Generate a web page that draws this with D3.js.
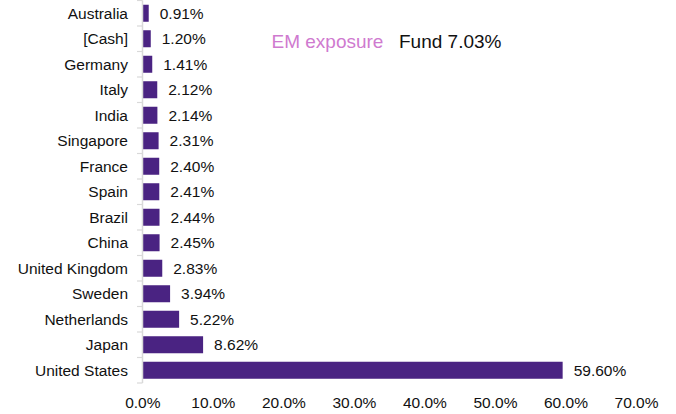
<!DOCTYPE html>
<html><head><meta charset="utf-8">
<script src="https://cdn.jsdelivr.net/npm/d3@7"></script>
<style>html,body{margin:0;padding:0;background:#fff;}svg{display:block;}</style>
</head><body>
<svg id="chart" width="676" height="414"></svg>
<script>
const countries = ["Australia","[Cash]","Germany","Italy","India","Singapore","France","Spain","Brazil","China","United Kingdom","Sweden","Netherlands","Japan","United States"];
const weights = [0.91,1.20,1.41,2.12,2.14,2.31,2.40,2.41,2.44,2.45,2.83,3.94,5.22,8.62,59.60];
const xTicks = [0,10,20,30,40,50,60,70];
const emLabel = "EM exposure";
const fundLabel = "Fund 7.03%";

const font = "'Liberation Sans', Arial, sans-serif";
const svg = d3.select("#chart");
const x = d3.scaleLinear().domain([0,70]).range([142.3,636]);
const y = d3.scaleBand().domain(countries).range([0.5,383]).paddingInner(0.333).paddingOuter(0.1665);

const data = countries.map((c,i)=>({c, v: weights[i]}));

// bars
svg.append("g").selectAll("rect").data(data).join("rect")
  .attr("x", x(0)).attr("y", d=>y(d.c))
  .attr("width", d=>x(d.v)-x(0)).attr("height", y.bandwidth())
  .attr("fill", "#4A2382");

// value labels
svg.append("g").selectAll("text").data(data).join("text")
  .attr("x", d=>x(d.v)+11).attr("y", d=>y(d.c)+y.bandwidth()/2)
  .attr("dy","0.36em")
  .attr("font-family", font).attr("font-size", "15.5px").attr("fill","#111")
  .text(d=>d.v.toFixed(2)+"%");

// y axis
const step = y.step();
const yAxisG = svg.append("g");
yAxisG.append("line").attr("x1",142.5).attr("x2",142.5).attr("y1",0.5).attr("y2",383)
  .attr("stroke","#d9d9d9").attr("stroke-width",1.5);
const bounds = d3.range(countries.length+1).map(i=>0.5+i*step);
yAxisG.selectAll("line.tk").data(bounds).join("line").attr("class","tk")
  .attr("x1",137).attr("x2",142.5).attr("y1",d=>d).attr("y2",d=>d)
  .attr("stroke","#d9d9d9").attr("stroke-width",1.2);
yAxisG.selectAll("text").data(countries).join("text")
  .attr("x",128).attr("y",d=>y(d)+y.bandwidth()/2).attr("dy","0.36em")
  .attr("text-anchor","end").attr("font-family",font).attr("font-size","15.5px").attr("fill","#111")
  .text(d=>d);

// x axis labels
const xAxis = d3.axisBottom(x).tickValues(xTicks).tickSize(0).tickFormat(d=>d.toFixed(1)+"%");
const xg = svg.append("g").attr("transform","translate(0,394)").call(xAxis);
xg.select(".domain").remove();
xg.selectAll("text").attr("font-family",font).attr("font-size","15.5px").attr("fill","#111").attr("dy","0.71em").attr("y",3);

// annotation
svg.append("text").attr("x",271.5).attr("y",48).attr("font-family",font).attr("font-size","19px")
  .attr("fill","#CF7ACF").text(emLabel);
svg.append("text").attr("x",399).attr("y",48).attr("font-family",font).attr("font-size","19px")
  .attr("fill","#111").text(fundLabel);
</script>
</body></html>
